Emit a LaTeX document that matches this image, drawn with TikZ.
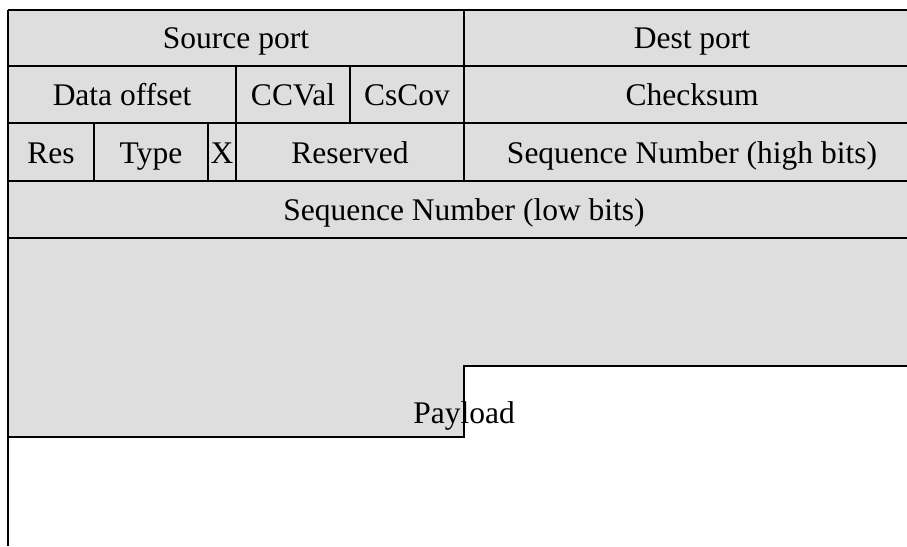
\documentclass[tikz,border=0pt]{standalone}
\usepackage{fontspec}
\setmainfont{Liberation Serif}
\definecolor{cellgrey}{RGB}{222,222,222}
\begin{document}
\begin{tikzpicture}[x=1pt,y=-1pt,line width=1.8pt,
  lbl/.style={anchor=base,inner sep=0pt,font=\fontsize{31.5}{36}\selectfont},
  grid/.style={draw=black,line width=1.8pt}]
\useasboundingbox (0,0) rectangle (907,546);
\begin{scope}
\clip (0,0) rectangle (907,546);
\fill[cellgrey] (8,10) rectangle (920,238);
\fill[cellgrey] (8,238) -- (920,238) -- (920,366) -- (464,366) -- (464,437) -- (8,437) -- cycle;
\end{scope}
\node[lbl] (src) at (236,48) {Source port};
\node[lbl] (dst) at (692,48) {Dest port};
\node[lbl] (doff) at (122,105) {Data offset};
\node[lbl] (ccval) at (293,105) {CCVal};
\node[lbl] (cscov) at (407,105) {CsCov};
\node[lbl] (cks) at (692,105) {Checksum};
\node[lbl] (res) at (51,163) {Res};
\node[lbl] (type) at (151,163) {Type};
\node[lbl] (xbit) at (222,163) {X};
\node[lbl] (rsv) at (350,163) {Reserved};
\node[lbl] (seqh) at (692,163) {Sequence Number (high bits)};
\node[lbl] (seql) at (464,220) {Sequence Number (low bits)};
\node[lbl] (pay) at (464,423) {Payload};
\begin{scope}
\clip (0,0) rectangle (907,546);
\draw[grid] (8,10) -- (920,10);
\draw[grid] (8,66) -- (920,66);
\draw[grid] (8,123) -- (920,123);
\draw[grid] (8,181) -- (920,181);
\draw[grid] (8,238) -- (920,238);
\draw[grid] (920,366) -- (464,366) -- (464,437) -- (8,437);
\draw[grid] (8,10) -- (8,546);
\draw[grid] (464,10) -- (464,181);
\draw[grid] (236,66) -- (236,181);
\draw[grid] (350,66) -- (350,123);
\draw[grid] (94,123) -- (94,181);
\draw[grid] (208,123) -- (208,181);
\end{scope}
\end{tikzpicture}
\end{document}
